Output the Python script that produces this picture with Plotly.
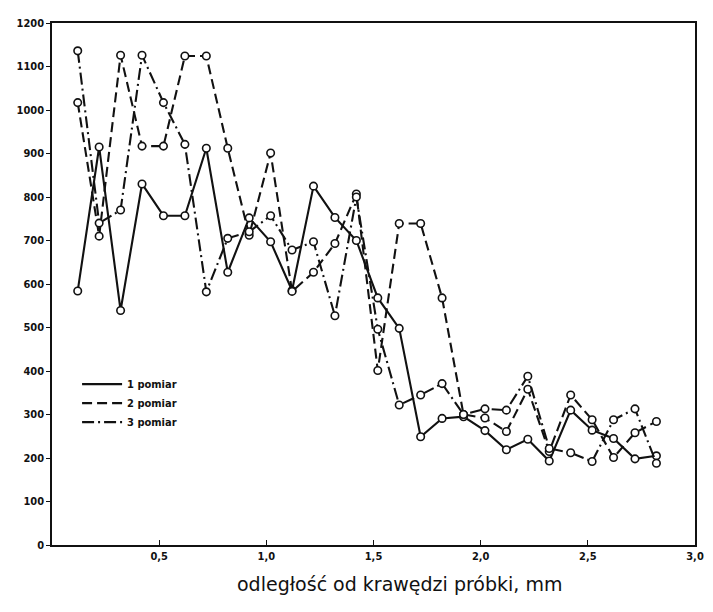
import plotly.graph_objects as go

# distance from sample edge, mm
x_mm = [0.12, 0.22, 0.32, 0.42, 0.52, 0.62, 0.72, 0.82, 0.92, 1.02,
        1.12, 1.22, 1.32, 1.42, 1.52, 1.62, 1.72, 1.82, 1.92, 2.02,
        2.12, 2.22, 2.32, 2.42, 2.52, 2.62, 2.72, 2.82]

pomiar1 = [584, 915, 539, 830, 757, 757, 912, 627, 752, 697,
           585, 825, 753, 700, 568, 498, 249, 291, 295, 263,
           219, 243, 193, 310, 264, 245, 198, 205]

pomiar2 = [1017, 710, 1126, 917, 917, 1124, 1124, 912, 712, 901,
           583, 627, 693, 807, 401, 739, 739, 568, 300, 292,
           261, 358, 215, 345, 288, 201, 258, 284]

pomiar3 = [1136, 740, 770, 1126, 1017, 921, 582, 705, 720, 757,
           678, 697, 527, 800, 496, 322, 345, 371, 300, 313,
           310, 388, 222, 212, 192, 288, 313, 188]

series_names = ["1 pomiar", "2 pomiar", "3 pomiar"]
dashes = ["solid", "10px,5px", "12px,4px,2px,4px"]
ink = "#111111"

y_ticks = [0, 100, 200, 300, 400, 500, 600, 700, 800, 900, 1000, 1100, 1200]
x_ticks = [0.5, 1.0, 1.5, 2.0, 2.5, 3.0]
x_tick_text = ["0,5", "1,0", "1,5", "2,0", "2,5", "3,0"]
x_title = "odległość od krawędzi próbki, mm"

fig = go.Figure()
for name, ys, d in zip(series_names, [pomiar1, pomiar2, pomiar3], dashes):
    fig.add_trace(go.Scatter(
        x=x_mm, y=ys, mode="lines+markers", showlegend=False,
        line=dict(color=ink, width=2.1, dash=d),
        marker=dict(symbol="circle", size=7.5, color="white",
                    line=dict(color=ink, width=1.6)),
    ))
    # legend sample (line only)
    fig.add_trace(go.Scatter(
        x=[None], y=[None], mode="lines", name=name,
        line=dict(color=ink, width=2.1, dash=d),
    ))

font_main = "DejaVu Sans Condensed, DejaVu Sans, sans-serif"

fig.update_layout(
    width=705, height=604,
    margin=dict(l=32, r=10, t=9, b=67),
    paper_bgcolor="white", plot_bgcolor="white",
    font=dict(family=font_main, color=ink),
    legend=dict(x=0.039, y=0.336, xanchor="left", yanchor="top",
                bgcolor="rgba(0,0,0,0)", tracegroupgap=0,
                font=dict(size=11, weight="bold", family=font_main),
                itemwidth=40),
    xaxis=dict(range=[0, 3.0], tickvals=x_ticks, ticktext=x_tick_text,
               showgrid=False, zeroline=False, showline=True, mirror=True,
               linecolor=ink, linewidth=1.5,
               ticks="inside", ticklen=5, tickcolor=ink,
               tickfont=dict(size=11, weight="bold")),
    yaxis=dict(range=[0, 1200], tickvals=y_ticks,
               showgrid=False, zeroline=False, showline=True, mirror=True,
               linecolor=ink, linewidth=1.5,
               ticks="outside", ticklen=4, tickcolor=ink,
               tickfont=dict(size=11, weight="bold")),
    annotations=[dict(text=x_title, xref="paper", yref="paper",
                      x=0.54, y=-0.075, xanchor="center", yanchor="middle",
                      showarrow=False,
                      font=dict(size=19, family="DejaVu Sans, sans-serif"))],
)

fig.write_html("out.html")
